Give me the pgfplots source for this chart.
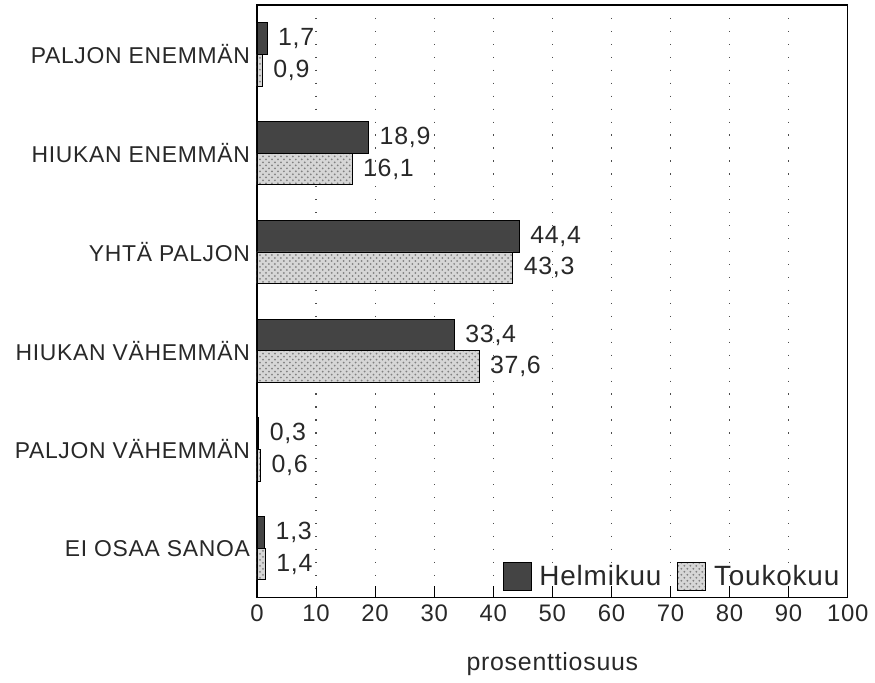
\documentclass[border=0pt]{standalone}
\usepackage{fontspec}
\setmainfont{Liberation Sans}[LetterSpace=3]
\usepackage{pgfplots}
\pgfplotsset{compat=1.18}
\usetikzlibrary{patterns}

\definecolor{dark}{RGB}{68,68,68}
\definecolor{light}{RGB}{214,214,214}
\definecolor{txt}{RGB}{40,40,40}

\begin{document}
\begin{tikzpicture}
\begin{axis}[
  name=ax,
  scale only axis,
  width=296.5pt, height=297.5pt,
  xbar,
  bar width=0.32,
  xmin=0, xmax=100,
  ymin=-0.5, ymax=5.5,
  y dir=reverse,
  xtick={0,10,...,100},
  ytick={0,...,5},
  yticklabels={PALJON ENEMMÄN, HIUKAN ENEMMÄN, YHTÄ PALJON, HIUKAN VÄHEMMÄN, PALJON VÄHEMMÄN, EI OSAA SANOA},
  xtick pos=bottom,
  tick align=inside,
  major tick length=6pt,
  ytick style={draw=none},
  xtick style={black, line width=0.5pt},
  axis line style={line width=0.6pt},
  xmajorgrids,
  grid style={black!70, line width=0.6pt, dash pattern=on 0.6pt off 5.9pt},
  /pgf/number format/assume math mode=true,
  xticklabel style={font=\fontsize{12}{14}\selectfont, text=txt},
  yticklabel style={font=\fontsize{11.5}{13}\selectfont, text=txt},
  xlabel={prosenttiosuus},
  xlabel style={font=\fontsize{12.5}{14}\selectfont, text=txt, at={(axis description cs:0.5,0)}, anchor=north, yshift=-24pt},
  point meta=x,
  nodes near coords={\pgfmathprintnumber[fixed,fixed zerofill,precision=1,use comma]{\pgfplotspointmeta}},
  nodes near coords style={font=\fontsize{12.5}{14}\selectfont, text=txt, anchor=west, xshift=2pt},
  legend style={draw=none, fill=none, at={(1,0)}, anchor=south east, xshift=1pt, yshift=0.5pt,
    legend columns=2, font=\fontsize{14}{16}\selectfont, text=txt,
    /tikz/every even column/.append style={column sep=6pt}},
  legend image code/.code={\draw[#1] (0pt,-7pt) rectangle (14pt,7pt);},
]
\addplot[draw=black, fill=dark, bar shift=-0.16] coordinates {
  (1.7,0) (18.9,1) (44.4,2) (33.4,3) (0.3,4) (1.3,5)
};
\addlegendentry{\hspace{2pt}Helmikuu}
\addplot[draw=black, fill=light, postaction={pattern=crosshatch dots, pattern color=gray}, bar shift=0.16] coordinates {
  (0.9,0) (16.1,1) (43.3,2) (37.6,3) (0.6,4) (1.4,5)
};
\addlegendentry{\hspace{2pt}Toukokuu}
\end{axis}
\path ([shift={(-129pt,-38.5pt)}]ax.south west) rectangle ([shift={(12pt,2.5pt)}]ax.north east);
\end{tikzpicture}
\end{document}
